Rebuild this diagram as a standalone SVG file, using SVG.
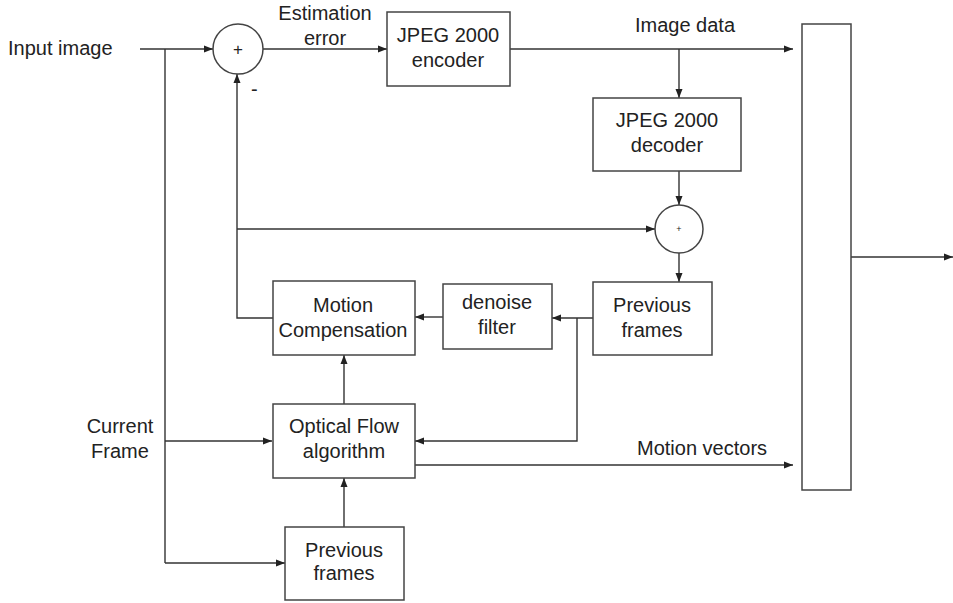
<svg xmlns="http://www.w3.org/2000/svg" width="953" height="603" viewBox="0 0 953 603">
<defs>
<marker id="arr" markerUnits="userSpaceOnUse" markerWidth="10" markerHeight="8" refX="9" refY="4" orient="auto">
<path d="M0,0.5 L9,4 L0,7.5 z" fill="#222"/>
</marker>
<style>
.box{fill:#fff;stroke:#444;stroke-width:1.5}
.ln{fill:none;stroke:#333;stroke-width:1.4}
.ar{fill:none;stroke:#333;stroke-width:1.4;marker-end:url(#arr)}
text{font-family:"Liberation Sans",Arial,sans-serif;font-size:20px;fill:#222}
.c{text-anchor:middle}
</style>
</defs>
<rect width="953" height="603" fill="#fff"/>

<g id="connectors">
<line class="ar" x1="140" y1="49" x2="213" y2="49"/>
<polyline class="ln" points="165,49 165,563"/>
<line class="ar" x1="165" y1="441" x2="272" y2="441"/>
<line class="ar" x1="165" y1="563" x2="285" y2="563"/>
<line class="ar" x1="263" y1="49" x2="387" y2="49"/>
<line class="ar" x1="510" y1="49" x2="793" y2="49"/>
<line class="ar" x1="679" y1="49" x2="679" y2="98"/>
<line class="ar" x1="679" y1="171" x2="679" y2="205"/>
<line class="ar" x1="237" y1="229" x2="655" y2="229"/>
<line class="ar" x1="679" y1="253" x2="679" y2="282"/>
<line class="ar" x1="593" y1="318" x2="552" y2="318"/>
<polyline class="ar" points="577,318 577,441 415,441"/>
<line class="ar" x1="443" y1="317" x2="415" y2="317"/>
<polyline class="ar" points="273,318 237,318 237,74"/>
<line class="ar" x1="344" y1="404" x2="344" y2="355"/>
<line class="ar" x1="344" y1="527" x2="344" y2="478"/>
<line class="ar" x1="415" y1="465" x2="793" y2="465"/>
<line class="ar" x1="851" y1="257" x2="953" y2="257"/>
<text x="325" y="20" class="c">Estimation</text>
<text x="325" y="45" class="c">error</text>
<text x="685" y="32" class="c">Image data</text>
<text x="637" y="455">Motion vectors</text>
<text x="251" y="96">-</text>
</g>

<g id="input-label"><text x="8" y="55">Input image</text></g>
<g id="current-frame-label"><text x="120" y="433" class="c">Current</text><text x="120" y="458" class="c">Frame</text></g>

<g id="sum1">
<circle cx="238" cy="49" r="25" class="box"/>
<text x="238" y="55" class="c" style="font-size:17px">+</text>
</g>

<g id="encoder">
<rect x="387" y="12" width="123" height="74" class="box"/>
<text x="448" y="42" class="c">JPEG 2000</text>
<text x="448" y="67" class="c">encoder</text>
</g>

<g id="decoder">
<rect x="593" y="98" width="148" height="73" class="box"/>
<text x="667" y="127" class="c">JPEG 2000</text>
<text x="667" y="152" class="c">decoder</text>
</g>

<g id="sum2">
<circle cx="679" cy="229" r="24" class="box"/>
<text x="679" y="232" class="c" style="font-size:9px">+</text>
</g>

<g id="prev-frames-top">
<rect x="593" y="282" width="119" height="73" class="box"/>
<text x="652" y="312" class="c">Previous</text>
<text x="652" y="337" class="c">frames</text>
</g>

<g id="denoise">
<rect x="443" y="284" width="109" height="65" class="box"/>
<text x="497" y="309" class="c">denoise</text>
<text x="497" y="334" class="c">filter</text>
</g>

<g id="motion-comp">
<rect x="273" y="281" width="142" height="74" class="box"/>
<text x="343" y="312" class="c">Motion</text>
<text x="343" y="337" class="c">Compensation</text>
</g>

<g id="optical-flow">
<rect x="273" y="404" width="142" height="74" class="box"/>
<text x="344" y="433" class="c">Optical Flow</text>
<text x="344" y="458" class="c">algorithm</text>
</g>

<g id="prev-frames-bottom">
<rect x="285" y="527" width="119" height="73" class="box"/>
<text x="344" y="557" class="c">Previous</text>
<text x="344" y="580" class="c">frames</text>
</g>

<g id="mux">
<rect x="802" y="24" width="49" height="466" class="box"/>
</g>
</svg>
